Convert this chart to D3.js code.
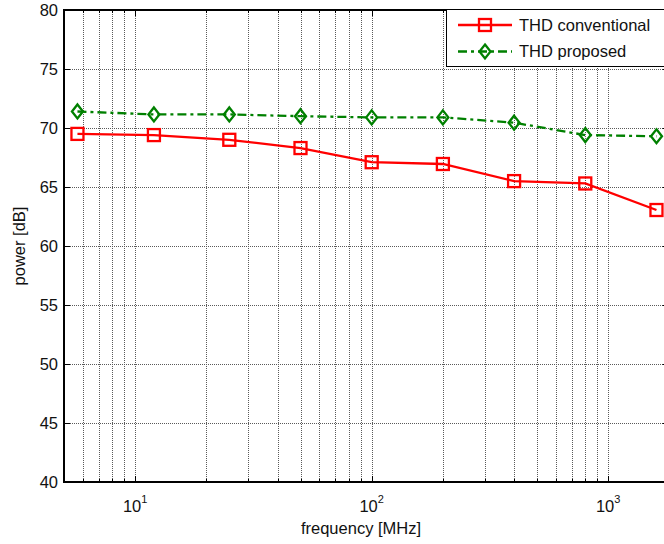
<!DOCTYPE html>
<html>
<head>
    <meta charset="utf-8">
    <title>THD vs frequency</title>
    <style>
        html, body { margin: 0px; padding: 0px; background: #fff; }
        svg { display: block; font-family: "Liberation Sans", Arial, sans-serif; }
        .grid line { stroke: #5a5a5a; stroke-width: 1px; stroke-dasharray: 1,1; }
    </style>
    <script src="https://d3js.org/d3.v7.min.js"></script>
</head>
<body>
<script>

    // data
    var freqs = [5.7, 12, 25, 50, 100, 200, 400, 800, 1600];
    var thdConventional = [69.5, 69.4, 69.0, 68.3, 67.1, 66.95, 65.5, 65.3, 63.05];
    var thdProposed = [71.4, 71.15, 71.15, 71.0, 70.9, 70.9, 70.45, 69.4, 69.3];
    var yTicks = [40, 45, 50, 55, 60, 65, 70, 75, 80];
    var xMajor = [10, 100, 1000];
    var seriesNames = ["THD conventional", "THD proposed"];

    var W = 664, H = 544;
    var pLeft = 64, pTop = 10, pBottom = 482;
    var decade = 236.5;

    var x = d3.scaleLog().domain([5, 1800])
        .range([pLeft, pLeft + Math.log10(1800 / 5) * decade]);
    var y = d3.scaleLinear().domain([40, 80]).range([pBottom, pTop]);
    var pRight = x.range()[1];

    var svg = d3.select("body").append("svg")
        .attr("width", W)
        .attr("height", H);

    // minor + major x positions (1..9 of each decade)
    var xGrid = [];
    [1, 10, 100, 1000].forEach(function(d) {
        for (var k = 1; k <= 9; k++) {
            var v = d * k;
            if (v > 5 && v < 1800) xGrid.push(v);
        }
    });

    var grid = svg.append("g").attr("class", "grid");
    grid.selectAll(".vx").data(xGrid).enter().append("line")
        .attr("x1", function(d) { return Math.round(x(d)) + 0.5; })
        .attr("x2", function(d) { return Math.round(x(d)) + 0.5; })
        .attr("y1", pTop).attr("y2", pBottom);
    grid.selectAll(".hy").data(yTicks.slice(1, -1)).enter().append("line")
        .attr("x1", pLeft).attr("x2", pRight)
        .attr("y1", function(d) { return Math.round(y(d)) + 0.5; })
        .attr("y2", function(d) { return Math.round(y(d)) + 0.5; });

    // ticks, inside, on all four sides
    var ticks = svg.append("g").attr("stroke", "#000").attr("stroke-width", 1);
    xGrid.forEach(function(d) {
        var len = xMajor.indexOf(d) >= 0 ? 6 : 3;
        var px = Math.round(x(d)) + 0.5;
        ticks.append("line").attr("x1", px).attr("x2", px).attr("y1", pBottom).attr("y2", pBottom - len);
        ticks.append("line").attr("x1", px).attr("x2", px).attr("y1", pTop).attr("y2", pTop + len);
    });
    yTicks.forEach(function(d) {
        var py = Math.round(y(d)) + 0.5;
        ticks.append("line").attr("x1", pLeft).attr("x2", pLeft + 6).attr("y1", py).attr("y2", py);
        ticks.append("line").attr("x1", pRight).attr("x2", pRight - 6).attr("y1", py).attr("y2", py);
    });

    // axes box
    svg.append("rect")
        .attr("x", pLeft).attr("y", pTop)
        .attr("width", pRight - pLeft).attr("height", pBottom - pTop)
        .attr("fill", "none").attr("stroke", "#000").attr("stroke-width", 2);

    // y tick labels
    svg.append("g").selectAll("text").data(yTicks).enter().append("text")
        .attr("x", 58)
        .attr("y", function(d) { return y(d); })
        .attr("dy", "0.36em")
        .attr("text-anchor", "end")
        .attr("font-size", 16.5)
        .attr("fill", "#111")
        .text(function(d) { return d; });

    // x tick labels 10^n
    var xl = svg.append("g").selectAll("text").data(xMajor).enter().append("text")
        .attr("x", function(d) { return x(d); })
        .attr("y", 511.5)
        .attr("text-anchor", "middle")
        .attr("font-size", 16.5)
        .attr("fill", "#111");
    xl.append("tspan").text("10");
    xl.append("tspan")
        .attr("dy", -9)
        .attr("font-size", 11)
        .text(function(d) { return Math.round(Math.log10(d)); });

    // axis titles
    svg.append("text")
        .attr("x", 361).attr("y", 534)
        .attr("text-anchor", "middle")
        .attr("font-size", 16.5)
        .attr("fill", "#111")
        .text("frequency [MHz]");
    svg.append("text")
        .attr("transform", "translate(25,246) rotate(-90)")
        .attr("text-anchor", "middle")
        .attr("font-size", 16.5)
        .attr("fill", "#111")
        .text("power [dB]");

    var red = "#ff0000", green = "#008000";

    var line = function(vals) {
        return d3.line()
            .x(function(d, i) { return x(freqs[i]); })
            .y(function(d) { return y(d); })(vals);
    };

    function square(g, cx, cy, col) {
        g.append("rect")
            .attr("x", cx - 6).attr("y", cy - 6)
            .attr("width", 12).attr("height", 12)
            .attr("fill", "none").attr("stroke", col).attr("stroke-width", 2.3);
    }

    function diamond(g, cx, cy, col) {
        g.append("path")
            .attr("d", "M" + cx + "," + (cy - 7) + "L" + (cx + 5.5) + "," + cy +
                "L" + cx + "," + (cy + 7) + "L" + (cx - 5.5) + "," + cy + "Z")
            .attr("fill", "none").attr("stroke", col).attr("stroke-width", 2.3);
    }

    // conventional
    svg.append("path").attr("d", line(thdConventional))
        .attr("fill", "none").attr("stroke", red).attr("stroke-width", 2.3);
    var mc = svg.append("g");
    thdConventional.forEach(function(d, i) { square(mc, x(freqs[i]), y(d), red); });

    // proposed
    svg.append("path").attr("d", line(thdProposed))
        .attr("fill", "none").attr("stroke", green).attr("stroke-width", 2.3)
        .attr("stroke-dasharray", "9,4,3,4");
    var mp = svg.append("g");
    thdProposed.forEach(function(d, i) { diamond(mp, x(freqs[i]), y(d), green); });

    // legend
    var lg = svg.append("g");
    lg.append("rect")
        .attr("x", 446.5).attr("y", 9.5)
        .attr("width", 240).attr("height", 57)
        .attr("fill", "#fff").attr("stroke", "#000").attr("stroke-width", 1);
    var rows = [25, 51.5];
    lg.append("line").attr("x1", 458).attr("x2", 512).attr("y1", rows[0]).attr("y2", rows[0])
        .attr("stroke", red).attr("stroke-width", 2.3);
    square(lg, 485, rows[0], red);
    lg.append("line").attr("x1", 458).attr("x2", 512).attr("y1", rows[1]).attr("y2", rows[1])
        .attr("stroke", green).attr("stroke-width", 2.3).attr("stroke-dasharray", "9,4,3,4");
    diamond(lg, 485, rows[1], green);
    lg.selectAll("text.lab").data(seriesNames).enter().append("text")
        .attr("x", 519)
        .attr("y", function(d, i) { return rows[i]; })
        .attr("dy", "0.36em")
        .attr("font-size", 16.5)
        .attr("fill", "#111")
        .text(function(d) { return d; });

</script>
</body>
</html>
